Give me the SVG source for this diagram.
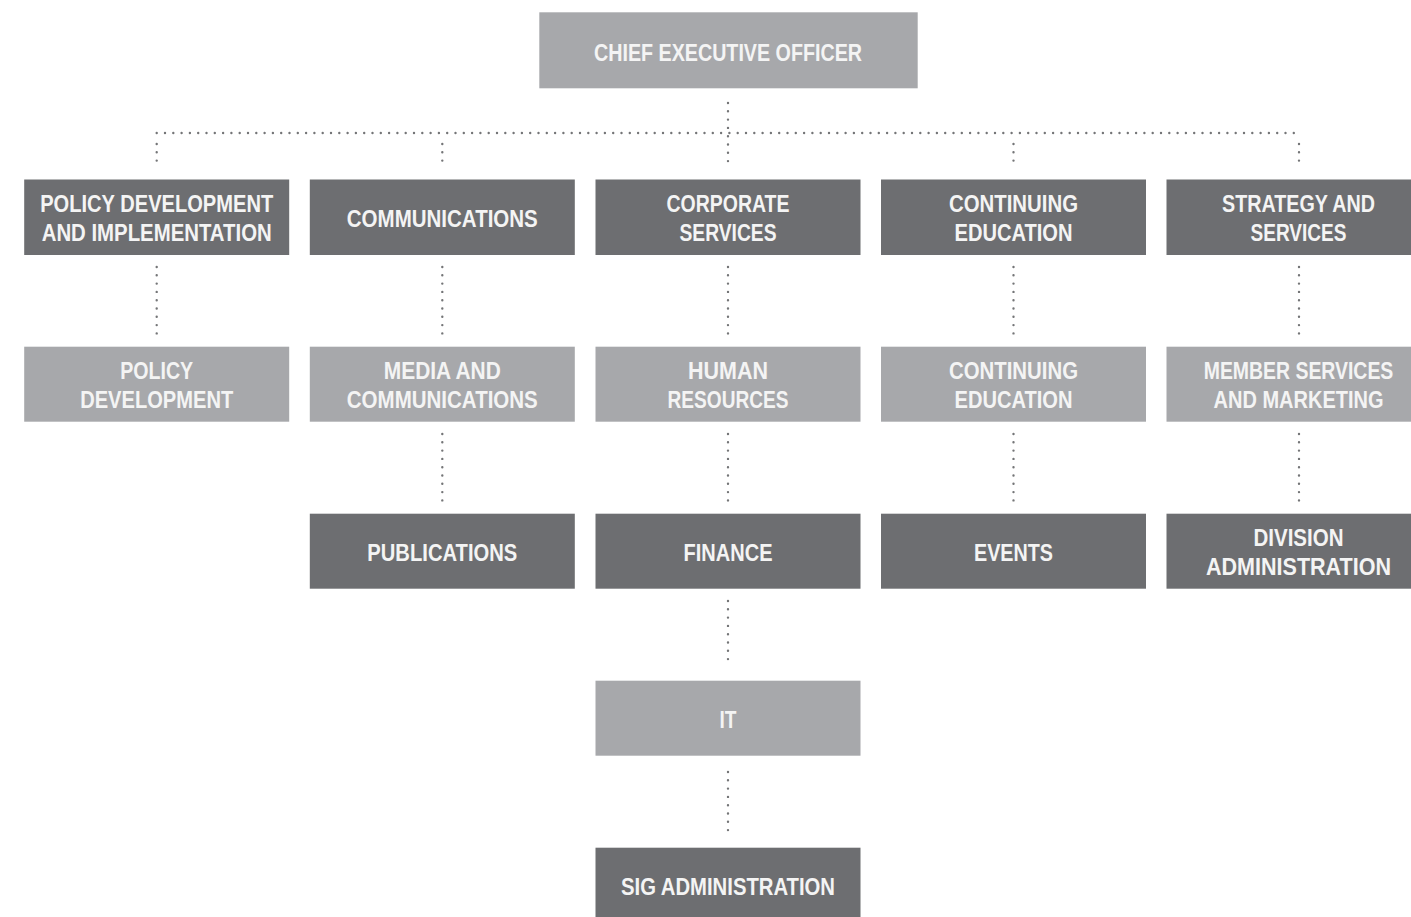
<svg xmlns="http://www.w3.org/2000/svg" width="1411" height="917" viewBox="0 0 1411 917">
<style>
.dk{fill:#6d6e71}
.lt{fill:#a7a8ab}
.t{font-family:"Liberation Sans",Arial,sans-serif;font-weight:bold;font-size:23px;fill:#f4f4f4;text-anchor:middle}
.c{fill:none;stroke:#747577;stroke-width:2.4;stroke-linecap:round;stroke-dasharray:0 8.3}
</style>
<rect width="1411" height="917" fill="#ffffff"/>
<g id="connectors">
<path class="c" d="M728 103V168"/>
<path class="c" d="M156.7 133H1299"/>
<path class="c" d="M156.7 144V168M442.3 144V168M1013.5 144V168M1299 144V168"/>
<path class="c" d="M156.7 267V335M442.3 267V335M728 267V335M1013.5 267V335M1299 267V335"/>
<path class="c" d="M442.3 434V502M728 434V502M1013.5 434V502M1299 434V502"/>
<path class="c" d="M728 601V667"/>
<path class="c" d="M728 772V831"/>
</g>
<g id="ceo"><rect class="lt" x="539.3" y="12.3" width="378.4" height="76"/><text class="t" x="728" y="60.5" textLength="268" lengthAdjust="spacingAndGlyphs">CHIEF EXECUTIVE OFFICER</text></g>

<g id="policy-dev-impl"><rect class="dk" x="24.2" y="179.5" width="265" height="75.5"/><text class="t" x="156.7" y="212.3" textLength="233" lengthAdjust="spacingAndGlyphs">POLICY DEVELOPMENT</text><text class="t" x="156.7" y="241" textLength="230" lengthAdjust="spacingAndGlyphs">AND IMPLEMENTATION</text></g>
<g id="communications"><rect class="dk" x="309.8" y="179.5" width="265" height="75.5"/><text class="t" x="442.3" y="226.5" textLength="191" lengthAdjust="spacingAndGlyphs">COMMUNICATIONS</text></g>
<g id="corporate-services"><rect class="dk" x="595.5" y="179.5" width="265" height="75.5"/><text class="t" x="728" y="212.3" textLength="123" lengthAdjust="spacingAndGlyphs">CORPORATE</text><text class="t" x="728" y="241" textLength="97" lengthAdjust="spacingAndGlyphs">SERVICES</text></g>
<g id="continuing-education"><rect class="dk" x="881" y="179.5" width="265" height="75.5"/><text class="t" x="1013.5" y="212.3" textLength="129" lengthAdjust="spacingAndGlyphs">CONTINUING</text><text class="t" x="1013.5" y="241" textLength="118" lengthAdjust="spacingAndGlyphs">EDUCATION</text></g>
<g id="strategy-services"><rect class="dk" x="1166.5" y="179.5" width="244.5" height="75.5"/><text class="t" x="1298.5" y="212.3" textLength="153" lengthAdjust="spacingAndGlyphs">STRATEGY AND</text><text class="t" x="1298.5" y="241" textLength="96" lengthAdjust="spacingAndGlyphs">SERVICES</text></g>

<g id="policy-development"><rect class="lt" x="24.2" y="346.7" width="265" height="75"/><text class="t" x="156.7" y="379.3" textLength="73" lengthAdjust="spacingAndGlyphs">POLICY</text><text class="t" x="156.7" y="408" textLength="153" lengthAdjust="spacingAndGlyphs">DEVELOPMENT</text></g>
<g id="media-communications"><rect class="lt" x="309.8" y="346.7" width="265" height="75"/><text class="t" x="442.3" y="379.3" textLength="117" lengthAdjust="spacingAndGlyphs">MEDIA AND</text><text class="t" x="442.3" y="408" textLength="191" lengthAdjust="spacingAndGlyphs">COMMUNICATIONS</text></g>
<g id="human-resources"><rect class="lt" x="595.5" y="346.7" width="265" height="75"/><text class="t" x="728" y="379.3" textLength="80" lengthAdjust="spacingAndGlyphs">HUMAN</text><text class="t" x="728" y="408" textLength="121" lengthAdjust="spacingAndGlyphs">RESOURCES</text></g>
<g id="continuing-education-2"><rect class="lt" x="881" y="346.7" width="265" height="75"/><text class="t" x="1013.5" y="379.3" textLength="129" lengthAdjust="spacingAndGlyphs">CONTINUING</text><text class="t" x="1013.5" y="408" textLength="118" lengthAdjust="spacingAndGlyphs">EDUCATION</text></g>
<g id="member-services"><rect class="lt" x="1166.5" y="346.7" width="244.5" height="75"/><text class="t" transform="translate(1298.5 379.3) scale(0.845 1)" x="0" y="0">MEMBER SERVICES</text><text class="t" x="1298.5" y="408" textLength="170" lengthAdjust="spacingAndGlyphs">AND MARKETING</text></g>

<g id="publications"><rect class="dk" x="309.8" y="513.7" width="265" height="75"/><text class="t" x="442.3" y="560.5" textLength="150" lengthAdjust="spacingAndGlyphs">PUBLICATIONS</text></g>
<g id="finance"><rect class="dk" x="595.5" y="513.7" width="265" height="75"/><text class="t" x="728" y="560.5" textLength="89" lengthAdjust="spacingAndGlyphs">FINANCE</text></g>
<g id="events"><rect class="dk" x="881" y="513.7" width="265" height="75"/><text class="t" x="1013.5" y="560.5" textLength="79" lengthAdjust="spacingAndGlyphs">EVENTS</text></g>
<g id="division-admin"><rect class="dk" x="1166.5" y="513.7" width="244.5" height="75"/><text class="t" x="1298.5" y="546.3" textLength="90" lengthAdjust="spacingAndGlyphs">DIVISION</text><text class="t" x="1298.5" y="575" textLength="185" lengthAdjust="spacingAndGlyphs">ADMINISTRATION</text></g>

<g id="it"><rect class="lt" x="595.5" y="680.7" width="265" height="75"/><text class="t" x="728" y="728" textLength="17" lengthAdjust="spacingAndGlyphs">IT</text></g>
<g id="sig-admin"><rect class="dk" x="595.5" y="847.7" width="265" height="69.3"/><text class="t" x="728" y="895" textLength="214" lengthAdjust="spacingAndGlyphs">SIG ADMINISTRATION</text></g>
</svg>
